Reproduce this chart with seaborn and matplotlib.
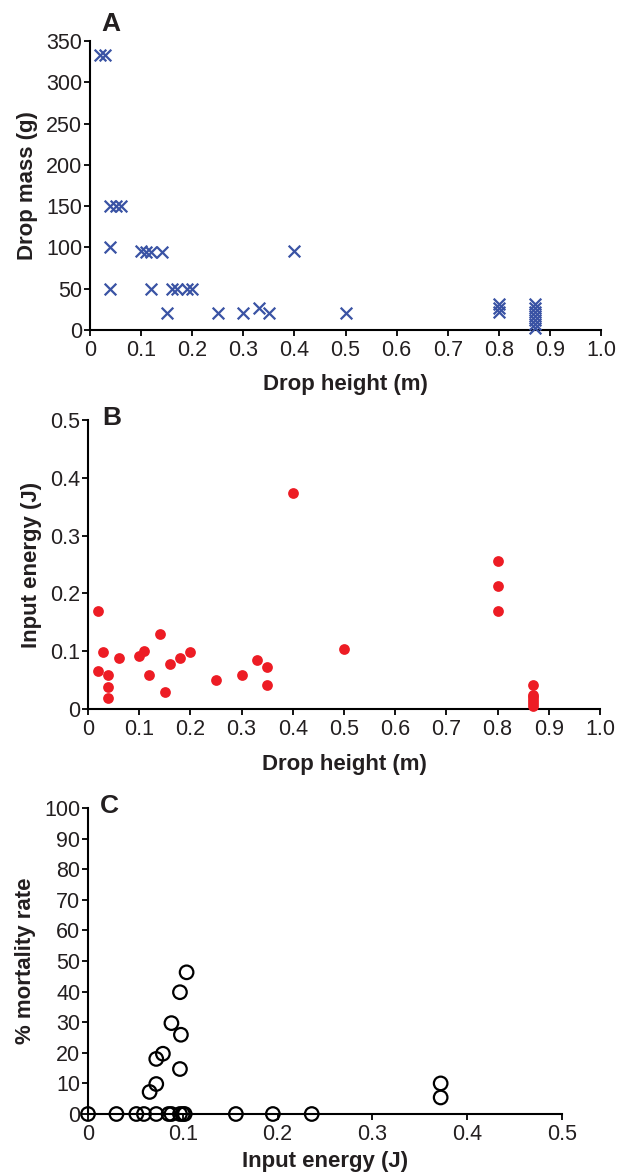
import matplotlib
matplotlib.use("Agg")
import matplotlib.pyplot as plt
import seaborn as sns
import pandas as pd

# ---- panel A: drop height vs drop mass ----
altura_a = [0.02, 0.03, 0.04, 0.05, 0.06, 0.04, 0.04,
            0.10, 0.11, 0.12, 0.14, 0.12, 0.16, 0.17, 0.19, 0.20,
            0.15, 0.25, 0.30, 0.33, 0.35, 0.40, 0.50,
            0.80, 0.80, 0.80,
            0.87, 0.87, 0.87, 0.87, 0.87, 0.87, 0.87]
masa_a = [333, 333, 150, 150, 150, 100, 50,
          96, 95, 95, 95, 50, 50, 50, 50, 50,
          21, 21, 20, 27, 21, 96, 21,
          32, 27, 22,
          32, 27, 22, 17, 12, 7, 3]

# ---- panel B: drop height vs input energy ----
altura_b = [0.02, 0.02, 0.03, 0.04, 0.04, 0.04, 0.06,
            0.10, 0.11, 0.12, 0.14, 0.15, 0.16, 0.18, 0.20,
            0.25, 0.30, 0.33, 0.35, 0.35, 0.40, 0.50,
            0.80, 0.80, 0.80,
            0.87, 0.87, 0.87, 0.87, 0.87, 0.87]
energia_b = [0.170, 0.065, 0.098, 0.058, 0.038, 0.019, 0.088,
             0.092, 0.101, 0.058, 0.129, 0.030, 0.078, 0.088, 0.098,
             0.051, 0.058, 0.084, 0.072, 0.042, 0.373, 0.103,
             0.256, 0.213, 0.170,
             0.042, 0.025, 0.020, 0.015, 0.010, 0.006]

# ---- panel C: input energy vs mortality ----
energia_c = [0.0, 0.030, 0.051, 0.059, 0.072, 0.085, 0.088, 0.097, 0.100,
             0.102, 0.156, 0.195, 0.236,
             0.065, 0.072, 0.072, 0.079, 0.088, 0.097, 0.098, 0.097, 0.104,
             0.372, 0.372]
mortalidad_c = [0, 0, 0, 0, 0, 0, 0, 0, 0,
                0, 0, 0, 0,
                7.2, 9.8, 18.0, 19.7, 29.7, 39.8, 25.9, 14.7, 46.3,
                10.0, 5.4]

TXT = "#231f20"
AZUL = "#3a53a4"
ROJO = "#ed1c24"

sns.set_style("ticks")
plt.rcParams["font.family"] = ["Liberation Sans", "DejaVu Sans"]
plt.rcParams["axes.linewidth"] = 1.5
plt.rcParams["xtick.major.width"] = 1.3
plt.rcParams["ytick.major.width"] = 1.3
plt.rcParams["xtick.major.size"] = 4.5
plt.rcParams["ytick.major.size"] = 4.5
plt.rcParams["xtick.color"] = "black"
plt.rcParams["ytick.color"] = "black"
plt.rcParams["xtick.labelcolor"] = TXT
plt.rcParams["ytick.labelcolor"] = TXT
plt.rcParams["xtick.labelsize"] = 15.5
plt.rcParams["ytick.labelsize"] = 15.5

fig = plt.figure(figsize=(6.18, 11.75), dpi=100)
W, H = 618, 1175


def eje(x0, x1, ytop, ybot):
    return fig.add_axes([x0 / W, 1 - ybot / H, (x1 - x0) / W, (ybot - ytop) / H])


def estilo(ax, xlab, ylab, xticks, xtl, yticks, ytl, xlim, ylim, xpad):
    ax.set_xlim(*xlim)
    ax.set_ylim(*ylim)
    ax.set_xticks(xticks)
    ax.set_xticklabels(xtl)
    ax.set_yticks(yticks)
    ax.set_yticklabels(ytl)
    ax.tick_params(axis="x", pad=3)
    ax.tick_params(axis="y", pad=1)
    ax.set_xlabel(xlab, fontsize=16, fontweight="bold", color=TXT, labelpad=xpad)
    ax.set_ylabel(ylab, fontsize=16, fontweight="bold", color=TXT, labelpad=6)
    sns.despine(ax=ax)
    for s in ax.spines.values():
        s.set_color("black")


def letra(txt, x, y):
    fig.text(x / W, 1 - y / H, txt, fontsize=19, fontweight="bold",
             color=TXT, va="center", ha="left")


# ----- A -----
ax = eje(90, 601, 41, 330)
df_a = pd.DataFrame({"h": altura_a, "m": masa_a})
sns.scatterplot(data=df_a, x="h", y="m", marker="x", color=AZUL, s=70,
                linewidth=1.6, ax=ax, clip_on=False, zorder=3)
xt = [i / 10 for i in range(11)]
xtl = ["0"] + [f"{v:.1f}" for v in xt[1:]]
estilo(ax, "Drop height (m)", "Drop mass (g)", xt, xtl,
       list(range(0, 351, 50)), [str(v) for v in range(0, 351, 50)],
       (0, 1.0), (0, 350), 9)
letra("A", 101, 24)

# ----- B -----
ax = eje(88, 600, 420, 709)
df_b = pd.DataFrame({"h": altura_b, "e": energia_b})
sns.scatterplot(data=df_b, x="h", y="e", marker="o", color=ROJO, s=60,
                edgecolor=ROJO, linewidth=0, ax=ax, clip_on=False, zorder=3)
yt = [i / 10 for i in range(6)]
ytl = ["0"] + [f"{v:.1f}" for v in yt[1:]]
estilo(ax, "Drop height (m)", "Input energy (J)", xt, xtl, yt, ytl,
       (0, 1.0), (0, 0.5), 10)
letra("B", 102, 418)

# ----- C -----
ax = eje(88, 562, 808, 1114)
df_c = pd.DataFrame({"e": energia_c, "mort": mortalidad_c})
sns.scatterplot(data=df_c, x="e", y="mort", marker="o", s=95,
                facecolor="none", edgecolor="black", linewidth=1.6,
                ax=ax, clip_on=False, zorder=3)
xtc = [i / 10 for i in range(6)]
xtlc = ["0"] + [f"{v:.1f}" for v in xtc[1:]]
estilo(ax, "Input energy (J)", "% mortality rate", xtc, xtlc,
       list(range(0, 101, 10)), [str(v) for v in range(0, 101, 10)],
       (0, 0.5), (0, 100), 4)
letra("C", 100, 806)

fig.savefig("out.png", dpi=100)
